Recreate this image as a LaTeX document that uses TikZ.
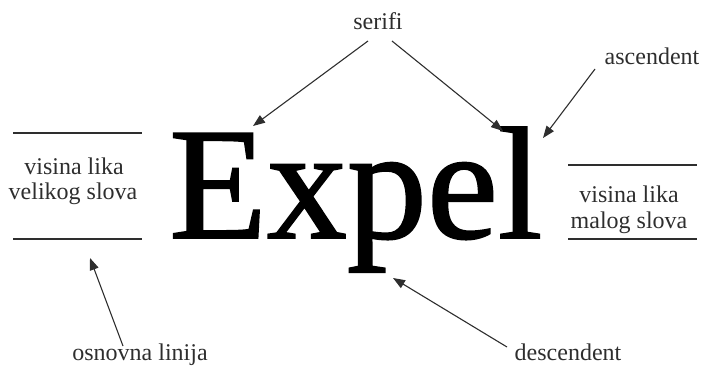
\documentclass[tikz,border=0pt]{standalone}
\usepackage{fontspec}
\setmainfont{Liberation Serif}
\newfontfamily\bigword[FakeBold=1.2]{Liberation Serif}
\usetikzlibrary{arrows.meta}
\definecolor{ink}{HTML}{2E2E2E}
\tikzset{
  lbl/.style={text=ink, font=\fontsize{24}{25}\selectfont, inner sep=0pt, align=center},
  arr/.style={draw=ink, line width=1.1pt, -{Triangle[length=12pt,width=9pt]}},
  rule/.style={draw=ink, line width=1.4pt}
}
\begin{document}
\begin{tikzpicture}[x=1pt,y=-1pt]
\useasboundingbox (0,0) rectangle (703,365);
% main word
\node[anchor=base west, inner sep=0pt, font=\bigword\fontsize{160}{160}\selectfont] (word) at (169,238) {Expel};
% labels
\node[lbl, anchor=base] (serifi) at (378,29) {serifi};
\node[lbl, anchor=base] (asc) at (652,64) {ascendent};
\node[lbl, anchor=base] (osn) at (140,360) {osnovna linija};
\node[lbl, anchor=base] (desc) at (568,360) {descendent};
\node[lbl, anchor=base] (vl1) at (74,174) {visina lika};
\node[lbl, anchor=base] (vl2) at (73,199) {velikog slova};
\node[lbl, anchor=base] (ml1) at (629,202) {visina lika};
\node[lbl, anchor=base] (ml2) at (629,228) {malog slova};
% reference rules
\coordinate (L1a) at (13,133); \coordinate (L1b) at (142,133);
\coordinate (L2a) at (13,239); \coordinate (L2b) at (142,239);
\coordinate (R1a) at (568,165); \coordinate (R1b) at (697,165);
\coordinate (R2a) at (568,239); \coordinate (R2b) at (697,239);
\draw[rule] (L1a) -- (L1b);
\draw[rule] (L2a) -- (L2b);
\draw[rule] (R1a) -- (R1b);
\draw[rule] (R2a) -- (R2b);
% arrow endpoints
\coordinate (s1) at (368,41); \coordinate (e1) at (253,126);
\coordinate (s2) at (392,41); \coordinate (e2) at (503,131);
\coordinate (s3) at (595,69); \coordinate (e3) at (543,138);
\coordinate (s4) at (123,346); \coordinate (e4) at (90,258);
\coordinate (s5) at (507,347); \coordinate (e5) at (393,278);
\draw[arr] (s1) -- (e1);
\draw[arr] (s2) -- (e2);
\draw[arr] (s3) -- (e3);
\draw[arr] (s4) -- (e4);
\draw[arr] (s5) -- (e5);
\end{tikzpicture}
\end{document}
